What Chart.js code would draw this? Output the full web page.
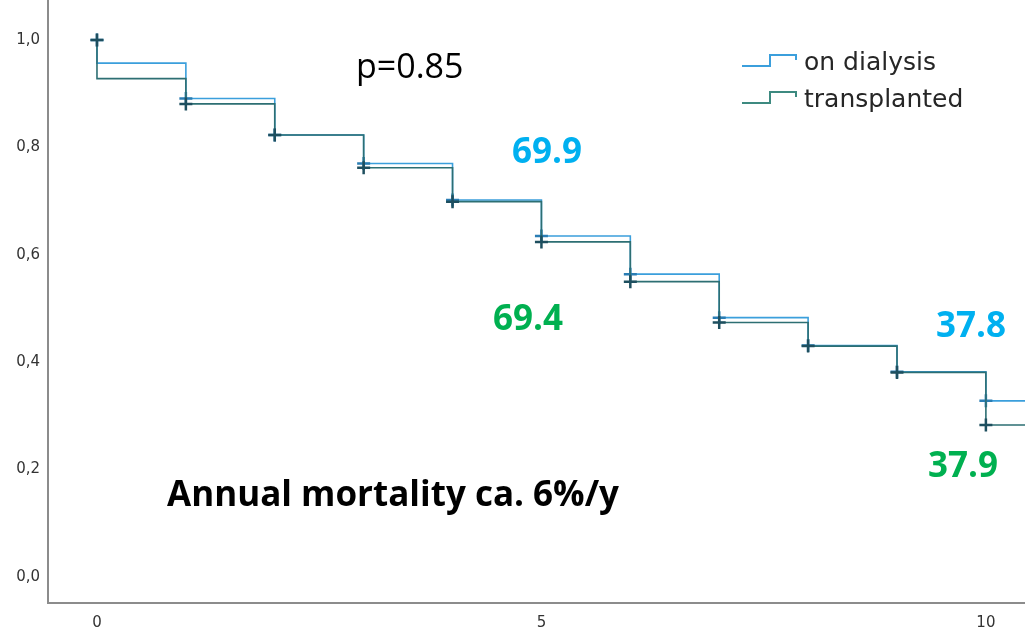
<!DOCTYPE html>
<html>
<head>
<meta charset="utf-8">
<script src="https://cdn.jsdelivr.net/npm/chart.js@4"></script>
<style>
  html, body { margin: 0; padding: 0; background: #ffffff; }
  #wrap { width: 1025px; height: 633px; }
</style>
</head>
<body>
<div id="wrap"><canvas id="c" width="1025" height="633"></canvas></div>
<script>
// ---- data ----
const seriesLabels = ["on dialysis", "transplanted"];
const years = [0, 1, 2, 3, 4, 5, 6, 7, 8, 9, 10];
const startSurvival = 1.0;
const followUpEnd = 10.44;
const dialysisSurvival     = [0.957, 0.891, 0.823, 0.770, 0.702, 0.635, 0.564, 0.483, 0.431, 0.382, 0.328];
const transplantedSurvival = [0.928, 0.881, 0.823, 0.762, 0.699, 0.624, 0.550, 0.474, 0.430, 0.381, 0.283];
const xTickValues = [0, 5, 10];
const yTickValues = [0, 0.2, 0.4, 0.6, 0.8, 1.0];
const annotationTexts = {
  p: "p=0.85",
  d5: "69.9", t5: "69.4",
  d10: "37.8", t10: "37.9",
  mortality: "Annual mortality ca. 6%/y"
};

// ---- build KM step series ----
function kmPoints(vals) {
  const pts = [{ x: years[0], y: startSurvival }];
  years.forEach((t, i) => pts.push({ x: t, y: vals[i] }));
  pts.push({ x: followUpEnd, y: vals[vals.length - 1] });
  return pts;
}
function markerRadius(ctx) {
  const n = ctx.dataset.data.length;
  if (ctx.dataIndex === 1 || ctx.dataIndex === n - 1) return 0;
  return 6.5;
}

const colDialysis = '#3b9fdc';
const colTransplanted = '#2d6f73';

const overlayPlugin = {
  id: 'overlay',
  afterDatasetsDraw(chart) {
    const c = chart.ctx;
    c.save();
    // legend with step icons
    const items = [
      { label: seriesLabels[0], color: '#3b9fdc', low: 66, high: 55, end: 60 },
      { label: seriesLabels[1], color: '#3d8a80', low: 103, high: 92, end: 97 }
    ];
    items.forEach(it => {
      c.strokeStyle = it.color;
      c.lineWidth = 2;
      c.beginPath();
      c.moveTo(742, it.low);
      c.lineTo(770, it.low);
      c.lineTo(770, it.high);
      c.lineTo(796, it.high);
      c.lineTo(796, it.end);
      c.stroke();
      c.fillStyle = '#262626';
      c.font = '25px "DejaVu Sans"';
      c.textAlign = 'left';
      c.textBaseline = 'alphabetic';
      c.fillText(it.label, 804, it.low + 4);
    });
    // annotations
    c.textAlign = 'left';
    c.fillStyle = '#000000';
    c.font = '34px "Open Sans"';
    c.fillText(annotationTexts.p, 356, 78);
    c.textAlign = 'center';
    c.font = 'bold 35px "Open Sans"';
    c.fillStyle = '#00b0f0';
    c.fillText(annotationTexts.d5, 547, 163);
    c.fillText(annotationTexts.d10, 971, 337);
    c.fillStyle = '#00b050';
    c.fillText(annotationTexts.t5, 528, 330);
    c.fillText(annotationTexts.t10, 963, 477);
    c.fillStyle = '#000000';
    c.fillText(annotationTexts.mortality, 393, 506);
    c.restore();
  }
};

new Chart(document.getElementById('c'), {
  type: 'line',
  data: {
    datasets: [
      {
        label: seriesLabels[1],
        data: kmPoints(transplantedSurvival),
        borderColor: colTransplanted,
        borderWidth: 1.6,
        stepped: 'before',
        fill: false,
        pointStyle: 'cross',
        pointRadius: markerRadius,
        pointBorderColor: '#1e4f5f',
        pointBorderWidth: 2.5,
        pointHoverRadius: 0
      },
      {
        label: seriesLabels[0],
        data: kmPoints(dialysisSurvival),
        borderColor: colDialysis,
        borderWidth: 1.6,
        stepped: 'before',
        fill: false,
        pointStyle: 'cross',
        pointRadius: markerRadius,
        pointBorderColor: '#2a7db4',
        pointBorderWidth: 2.5,
        pointHoverRadius: 0
      }
    ]
  },
  options: {
    responsive: false,
    animation: false,
    devicePixelRatio: 1,
    layout: { padding: 0, autoPadding: false },
    plugins: { legend: { display: false }, tooltip: { enabled: false } },
    events: [],
    scales: {
      x: {
        type: 'linear',
        min: -0.551,
        max: followUpEnd,
        afterBuildTicks: s => { s.ticks = xTickValues.map(v => ({ value: v })); },
        afterFit: s => { s.height = 30; s.paddingLeft = 0; s.paddingRight = 0; },
        grid: { display: false, drawTicks: false },
        border: { display: true, color: '#8c8c8c', width: 2 },
        ticks: { color: '#333333', font: { family: 'DejaVu Sans', size: 15 }, padding: 11, maxRotation: 0,
                 callback: v => String(v) }
      },
      y: {
        type: 'linear',
        min: -0.0484,
        max: 1.0745,
        afterBuildTicks: s => { s.ticks = yTickValues.map(v => ({ value: v })); },
        afterFit: s => { s.width = 48; s.paddingTop = 0; s.paddingBottom = 0; },
        grid: { display: false, drawTicks: false },
        border: { display: true, color: '#8c8c8c', width: 2 },
        ticks: { color: '#333333', font: { family: 'DejaVu Sans', size: 15 }, padding: 8,
                 callback: v => v.toFixed(1).replace('.', ',') }
      }
    }
  },
  plugins: [overlayPlugin]
});
</script>
</body>
</html>
